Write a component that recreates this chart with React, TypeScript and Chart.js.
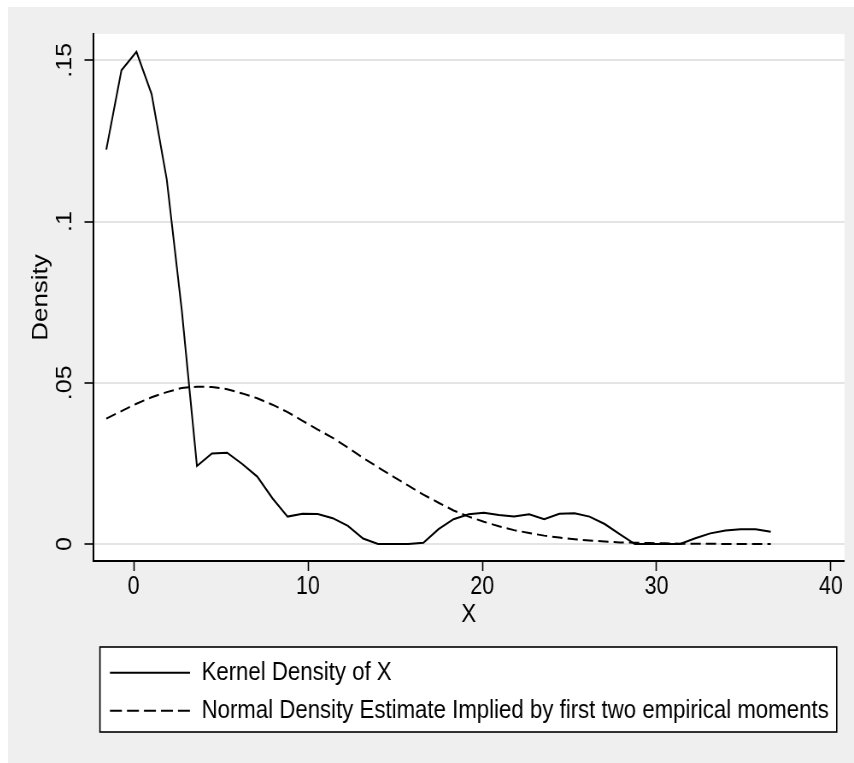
import React, { useEffect, useRef } from "react";
import { Chart, registerables } from "chart.js";

Chart.register(...registerables);

// ---------- data ----------
const X_VALUES = [
  -1.57, -0.7, 0.16, 1.03, 1.9, 2.76, 3.63, 4.49, 5.36, 6.23,
  7.09, 7.96, 8.83, 9.69, 10.56, 11.42, 12.29, 13.16, 14.02, 14.89,
  15.76, 16.62, 17.49, 18.35, 19.22, 20.09, 20.95, 21.82, 22.69, 23.55,
  24.42, 25.29, 26.15, 27.02, 27.88, 28.75, 29.62, 30.48, 31.35, 32.22,
  33.08, 33.95, 34.81, 35.68, 36.55,
];

const KERNEL_DENSITY = [
  0.1223, 0.1469, 0.1526, 0.1395, 0.113, 0.0725, 0.0242, 0.0281, 0.0283, 0.0248,
  0.0209, 0.0142, 0.0085, 0.0094, 0.0093, 0.008, 0.0056, 0.0017, 0.0, 0.0,
  0.0, 0.0004, 0.0046, 0.0077, 0.0092, 0.0097, 0.009, 0.0085, 0.0092, 0.0077,
  0.0094, 0.0095, 0.0085, 0.0062, 0.0031, 0.0, 0.0, 0.0, 0.0, 0.0018,
  0.0033, 0.0042, 0.0046, 0.0046, 0.0038,
];

const NORMAL_DENSITY = [
  0.0389, 0.0412, 0.0435, 0.0455, 0.0471, 0.0484, 0.0488, 0.0487, 0.048, 0.0467,
  0.0452, 0.0432, 0.0409, 0.0382, 0.0355, 0.0329, 0.0299, 0.0267, 0.0238, 0.0209,
  0.0181, 0.0153, 0.0128, 0.0104, 0.0085, 0.0069, 0.0055, 0.0043, 0.0034, 0.0026,
  0.002, 0.0015, 0.0011, 0.0008, 0.0005, 0.0004, 0.0003, 0.0002, 0.0001, 0.0001,
  0.0001, 0.0, 0.0, 0.0, 0.0,
];

const SERIES_LABELS = [
  "Kernel Density of X",
  "Normal Density Estimate Implied by first two empirical moments",
];

const X_TICKS = [0, 10, 20, 30, 40];
const X_TICK_LABELS = ["0", "10", "20", "30", "40"];
const Y_TICKS = [0, 0.05, 0.1, 0.15];
const Y_TICK_LABELS = ["0", ".05", ".1", ".15"];
const X_TITLE = "X";
const Y_TITLE = "Density";

// ---------- styling ----------
const FONT_FAMILY = "'Liberation Sans', Arial, Helvetica, sans-serif";
const CANVAS_W = 990; // drawn width, shown squeezed to 846px like the reference
const CANVAS_H = 756;
const SHOWN_W = 846;
const BG = "#efefef";
const GRID = "#e4e4e4";

const labelFor = (value: number, ticks: number[], labels: string[]) => {
  const i = ticks.findIndex((t) => Math.abs(t - value) < 1e-9);
  return i >= 0 ? labels[i] : "";
};

const backgroundPlugin = {
  id: "stataBackground",
  beforeDraw(chart: any) {
    const { ctx, chartArea: a } = chart;
    ctx.save();
    ctx.fillStyle = BG;
    ctx.fillRect(0, 0, chart.width, chart.height);
    ctx.fillStyle = "#ffffff";
    ctx.fillRect(a.left, a.top, a.right - a.left, a.bottom - a.top);
    ctx.restore();
  },
};

const boxLegendPlugin = {
  id: "boxLegend",
  afterDraw(chart: any) {
    const { ctx } = chart;
    const boxL = 107.6;
    const boxR = 969.8;
    const boxT = 640;
    const boxB = 725;
    ctx.save();
    ctx.fillStyle = "#ffffff";
    ctx.fillRect(boxL, boxT, boxR - boxL, boxB - boxT);
    ctx.strokeStyle = "#000000";
    ctx.lineWidth = 1.6;
    ctx.strokeRect(boxL, boxT, boxR - boxL, boxB - boxT);

    const lineX0 = 119.3;
    const lineX1 = 213;
    const textX = 226.4;
    const rows = [
      { lineY: 665.7, baseY: 673 },
      { lineY: 703.7, baseY: 711 },
    ];
    chart.data.datasets.forEach((ds: any, i: number) => {
      const r = rows[i];
      if (!r) return;
      ctx.beginPath();
      ctx.strokeStyle = ds.borderColor;
      ctx.lineWidth = ds.borderWidth;
      ctx.setLineDash(ds.borderDash && ds.borderDash.length ? [14, 5.9] : []);
      ctx.moveTo(lineX0, r.lineY);
      ctx.lineTo(lineX1, r.lineY);
      ctx.stroke();
      ctx.setLineDash([]);
      ctx.fillStyle = "#000000";
      ctx.font = `26px ${FONT_FAMILY}`;
      ctx.textAlign = "left";
      ctx.textBaseline = "alphabetic";
      ctx.fillText(ds.label, textX, r.baseY);
    });
    ctx.restore();
  },
};

export default function App() {
  const canvasRef = useRef<HTMLCanvasElement | null>(null);

  useEffect(() => {
    const canvas = canvasRef.current;
    if (!canvas) return;
    const chart = new Chart(canvas, {
      type: "line",
      data: {
        datasets: [
          {
            label: SERIES_LABELS[0],
            data: X_VALUES.map((x, i) => ({ x, y: KERNEL_DENSITY[i] })),
            borderColor: "#000000",
            borderWidth: 2,
            pointRadius: 0,
            tension: 0,
            fill: false,
          },
          {
            label: SERIES_LABELS[1],
            data: X_VALUES.map((x, i) => ({ x, y: NORMAL_DENSITY[i] })),
            borderColor: "#000000",
            borderWidth: 2,
            borderDash: [12, 6],
            pointRadius: 0,
            tension: 0,
            fill: false,
          },
        ],
      },
      options: {
        responsive: false,
        maintainAspectRatio: false,
        animation: false,
        devicePixelRatio: 1,
        layout: { padding: { left: 0, right: 11.1, top: 27, bottom: 117 } },
        plugins: {
          legend: { display: false },
          tooltip: { enabled: false },
          title: { display: false },
        },
        scales: {
          x: {
            type: "linear",
            position: "bottom",
            min: -2.33,
            max: 40.78,
            afterBuildTicks: (scale: any) => {
              scale.ticks = X_TICKS.map((v) => ({ value: v }));
            },
            afterFit: (scale: any) => {
              scale.height = 85;
            },
            ticks: {
              autoSkip: false,
              maxRotation: 0,
              minRotation: 0,
              padding: 1,
              color: "#000000",
              font: { family: FONT_FAMILY, size: 25 },
              callback: (v: any) => labelFor(Number(v), X_TICKS, X_TICK_LABELS),
            },
            grid: {
              drawOnChartArea: false,
              drawTicks: true,
              tickLength: 10,
              tickColor: "#000000",
              tickWidth: 1.6,
            },
            border: { display: true, color: "#000000", width: 2 },
            title: {
              display: true,
              text: X_TITLE,
              color: "#000000",
              font: { family: FONT_FAMILY, size: 26 },
              padding: { top: 0, bottom: 15.4 },
            },
          },
          y: {
            type: "linear",
            position: "left",
            min: -0.00527,
            max: 0.15815,
            afterBuildTicks: (scale: any) => {
              scale.ticks = Y_TICKS.map((v) => ({ value: v }));
            },
            afterFit: (scale: any) => {
              scale.width = 99.5;
            },
            ticks: {
              autoSkip: false,
              minRotation: 90,
              maxRotation: 90,
              crossAlign: "center",
              padding: 5.4,
              color: "#000000",
              font: { family: FONT_FAMILY, size: 25 },
              callback: (v: any) => labelFor(Number(v), Y_TICKS, Y_TICK_LABELS),
            },
            grid: {
              drawOnChartArea: true,
              color: GRID,
              lineWidth: 2,
              drawTicks: true,
              tickLength: 10,
              tickColor: "#000000",
              tickWidth: 1.6,
            },
            border: { display: true, color: "#000000", width: 2 },
            title: {
              display: true,
              text: Y_TITLE,
              color: "#000000",
              font: { family: FONT_FAMILY, size: 26 },
              padding: { top: 22.8, bottom: 0 },
            },
          },
        },
      },
      plugins: [backgroundPlugin, boxLegendPlugin],
    } as any);
    return () => chart.destroy();
  }, []);

  return (
    <div
      style={{
        position: "fixed",
        left: 8,
        top: 7,
        width: SHOWN_W,
        height: CANVAS_H,
        background: BG,
        overflow: "hidden",
      }}
    >
      <canvas
        ref={canvasRef}
        width={CANVAS_W}
        height={CANVAS_H}
        style={{ width: `${SHOWN_W}px`, height: `${CANVAS_H}px`, display: "block" }}
      />
    </div>
  );
}
